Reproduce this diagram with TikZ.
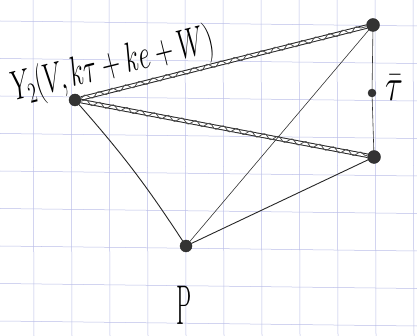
\documentclass[tikz,border=0pt]{standalone}
\usepackage{graphicx}
\usetikzlibrary{decorations.pathmorphing}
\begin{document}
\begin{tikzpicture}[x=1pt,y=-1pt,
  gridline/.style={draw={rgb,255:red,186;green,190;blue,232}, line width=0.5pt},
  dot/.style={circle, fill=black!80, draw=black!85, inner sep=0pt, minimum size=#1},
  dot/.default=11pt,
  spring/.style={draw=black!85, line width=1pt, double=white, double distance=2.4pt,
    postaction={draw=black!70, line width=0.8pt, decorate,
      decoration={snake, amplitude=2.4pt, segment length=14pt}}},
  edge/.style={draw=black!85, line width=0.9pt},
  thinedge/.style={draw=black!80, line width=0.6pt}]
\useasboundingbox (0,0) rectangle (417,336);
\fill[white] (0,0) rectangle (417,336);
\foreach \x in {33,71,...,413} \draw[gridline] (\x,0) -- (\x+1,336);
\foreach \y in {21,58.5,...,336} \draw[gridline] (0,\y) -- (417,\y+5);
% nodes
\node[dot=12pt] (y) at (75,100) {};
\node[dot=13pt] (tr) at (373,25) {};
\node[dot=8pt] (m) at (372,93) {};
\node[dot=13pt] (br) at (374,157) {};
\node[dot=12pt] (p) at (186,246) {};
% connectors
\draw[spring] (y) -- (tr);
\draw[spring] (y) -- (br);
\draw[edge] (y) to[bend left=4] (p);
\draw[thinedge] (p) -- (tr);
\draw[edge] (p) -- (br);
\draw[thinedge] (tr) -- (m);
\draw[thinedge] (m) -- (br);
% labels
\node[anchor=base west, rotate=14, inner sep=0pt, font=\fontsize{20}{24}\selectfont] (ylab) at (15,101) {\scalebox{1.22}[2.0]{$Y_2(V,k\tau+ke+W)$}};
\node[inner sep=0pt, font=\fontsize{20}{24}\selectfont] (tlab) at (394,88) {\scalebox{1.6}[2.2]{$\bar\tau$}};
\node[inner sep=0pt, font=\fontsize{20}{24}\selectfont] (plab) at (184,305) {\scalebox{1.2}[2.8]{P}};
\end{tikzpicture}
\end{document}
